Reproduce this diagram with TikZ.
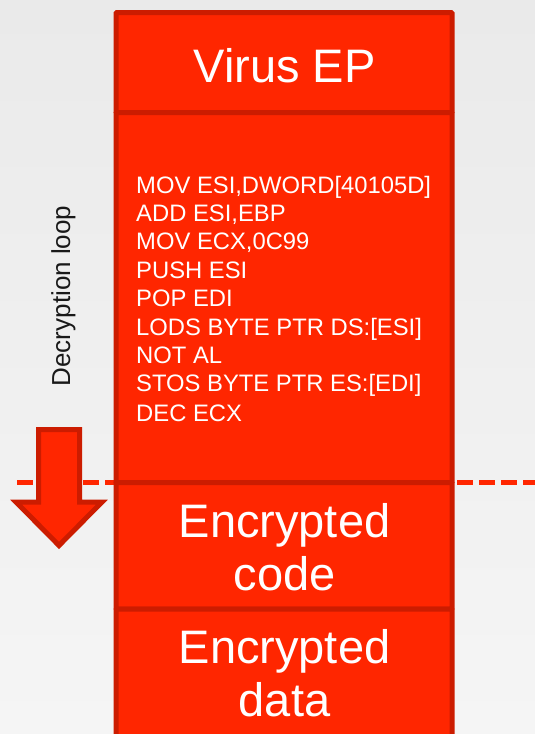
\documentclass[tikz,border=0pt]{standalone}
\usepackage{fontspec}
\setmainfont{Liberation Sans}
\definecolor{boxfill}{HTML}{FF2600}
\definecolor{boxline}{HTML}{CC1C00}
\definecolor{bgtop}{HTML}{EAEAEA}
\definecolor{bgbot}{HTML}{F5F5F5}
\begin{document}
\begin{tikzpicture}[x=1pt,y=-1pt,
  memblock/.style={draw=boxline, fill=boxfill, line width=5pt, rectangle,
    minimum width=336pt, inner sep=0pt, outer sep=0pt, rounded corners=1pt},
  bigtext/.style={text=white, font=\fontsize{47}{54}\selectfont, anchor=base, inner sep=0pt},
  codeline/.style={text=white, font=\fontsize{23.8}{28}\selectfont, anchor=base west, inner sep=0pt},
  cutline/.style={draw=boxfill, line width=5pt, dash pattern=on 16pt off 6pt}
]
\useasboundingbox (0,0) rectangle (535,734);
\shade[top color=bgtop, bottom color=bgbot] (0,0) rectangle (535,734);
\begin{scope}
\clip (0,0) rectangle (535,734);
% dashed boundary line
\coordinate (dl) at (17,482.5);
\coordinate (dr) at (540,482.5);
\draw[cutline] (dl) -- (dr);
% memory blocks
\node[memblock, minimum height=100pt] (ep) at (284,62.5) {};
\node[memblock, minimum height=370pt] (code) at (284,297.5) {};
\node[memblock, minimum height=126.5pt] (enccode) at (284,545.75) {};
\node[memblock, minimum height=141pt] (encdata) at (284,679.5) {};
\end{scope}
% texts
\node[bigtext] (eptxt) at (284.5,82) {Virus EP};
\node[codeline] (l1) at (136,193) {MOV ESI,DWORD[40105D]};
\node[codeline] (l2) at (136,221.4) {ADD ESI,EBP};
\node[codeline] (l3) at (136,249.8) {MOV ECX,0C99};
\node[codeline] (l4) at (136,278.2) {PUSH ESI};
\node[codeline] (l5) at (136,306.6) {POP EDI};
\node[codeline] (l6) at (136,335.0) {LODS BYTE PTR DS:[ESI]};
\node[codeline] (l7) at (136,363.4) {NOT AL};
\node[codeline] (l8) at (136,391.8) {STOS BYTE PTR ES:[EDI]};
\node[codeline] (l9) at (136,421) {DEC ECX};
\node[bigtext] (ec1) at (284.5,537) {Encrypted};
\node[bigtext] (ec2) at (284.5,590) {code};
\node[bigtext] (ed1) at (284.5,663) {Encrypted};
\node[bigtext] (ed2) at (284.5,716) {data};
% loop label
\node[rotate=90, anchor=base, inner sep=0pt, text=black!90,
  font=\fontsize{26}{30}\selectfont] (loop) at (70,296) {Decryption loop};
% block arrow
\draw[draw=boxline, fill=boxfill, line width=5pt, line join=miter]
  (38.5,429.5) -- (79.5,429.5) -- (79.5,502) -- (102,502) -- (59,545.5)
  -- (16,502) -- (38.5,502) -- cycle;
\end{tikzpicture}
\end{document}
